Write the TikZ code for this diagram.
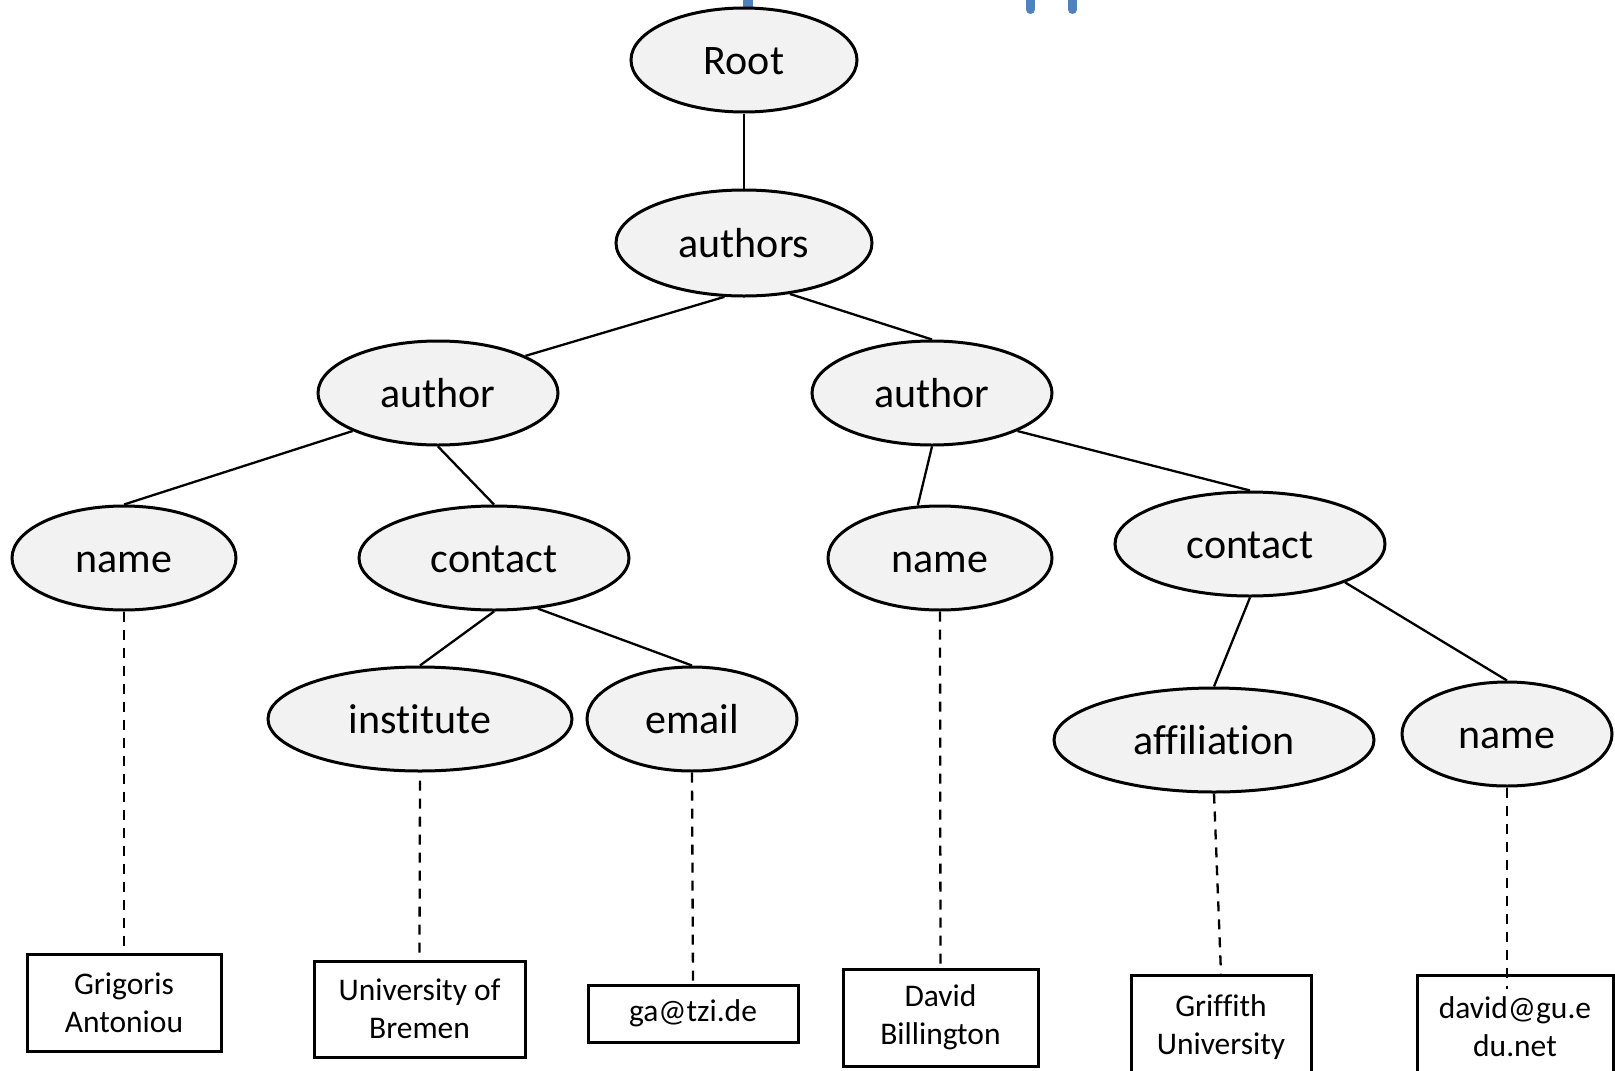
\documentclass[tikz,border=0pt]{standalone}
\usepackage{fontspec}
\setmainfont{Carlito}[Ligatures={NoCommon}]
\usetikzlibrary{shapes.geometric}
\definecolor{ellfill}{HTML}{F2F2F2}
\definecolor{markblue}{HTML}{4F81BD}
\tikzset{
  elem/.style={ellipse, draw=black, line width=3pt, fill=ellfill, inner sep=0pt,
    text height=29pt, text depth=0pt,
    font=\fontsize{42}{50}\selectfont},
  valbox/.style={rectangle, draw=black, line width=3pt, fill=white, inner sep=0pt,
    align=center, font=\fontsize{31.5}{38}\selectfont},
  edge/.style={draw=black, line width=2.3pt},
  dashline/.style={draw=black, line width=2.3pt, dash pattern=on 10pt off 8pt},
  bluemark/.style={draw=markblue, line width=9pt, line cap=round}
}
\begin{document}
\begin{tikzpicture}[x=1pt, y=-1pt]
\useasboundingbox (0,0) rectangle (1615,1071);
% fragments at top edge
\fill[markblue] (743,-2) rectangle (753,8);
\draw[bluemark] (1030.5,-8) -- (1030.5,9.5);
\draw[bluemark] (1072.5,-8) -- (1072.5,9.5);

% ellipses
\node[elem, minimum width=226pt, minimum height=104pt] (root) at (744,60) {Root};
\node[elem, minimum width=256pt, minimum height=106pt] (authors) at (744,243) {authors};
\node[elem, minimum width=240pt, minimum height=104pt] (authorL) at (438,393) {author};
\node[elem, minimum width=240pt, minimum height=104pt] (authorR) at (932,393) {author};
\node[elem, minimum width=224pt, minimum height=104pt] (nameL) at (124,558) {name};
\node[elem, minimum width=270pt, minimum height=104pt] (contactL) at (494,558) {contact};
\node[elem, minimum width=224pt, minimum height=104pt] (nameM) at (940,558) {name};
\node[elem, minimum width=270pt, minimum height=104pt] (contactR) at (1250,544) {contact};
\node[elem, minimum width=304pt, minimum height=104pt] (institute) at (420,719) {institute};
\node[elem, minimum width=210pt, minimum height=104pt] (email) at (692,719) {email};
\node[elem, minimum width=320pt, minimum height=104pt] (affil) at (1214,740) {affiliation};
\node[elem, minimum width=210pt, minimum height=104pt] (nameR) at (1507,734) {name};

% value boxes
\node[valbox, minimum width=194pt, minimum height=97pt] (gbox) at (124,1002.5) {Grigoris\\Antoniou};
\node[valbox, minimum width=211pt, minimum height=96pt] (ubox) at (419.5,1009) {University of\\Bremen};
\node[valbox, minimum width=210pt, minimum height=57pt] (ebox) at (693,1013.5) {ga@tzi.de};
\node[valbox, minimum width=195pt, minimum height=97pt] (dbbox) at (940.5,1017.5) {David\\Billington};
\node[valbox, minimum width=180pt, minimum height=104pt] (fbox) at (1221,1027) {Griffith\\University};
\node[valbox, minimum width=196pt, minimum height=104pt] (dbox) at (1515,1027) {david@gu.e\\du.net};

% tree edges
\draw[edge] (root.south) -- (authors.north);
\draw[edge] (authors.250) -- (authorL.23);
\draw[edge] (authors.312) -- (authorR.north);
\draw[edge] (authorL.204) -- (nameL.north);
\draw[edge] (authorL.south) -- (contactL.north);
\draw[edge] (authorR.south) -- (nameM.113);
\draw[edge] (authorR.336) -- (contactR.north);
\draw[edge] (contactL.south) -- (institute.north);
\draw[edge] (contactL.311) -- (email.north);
\draw[edge] (contactR.south) -- (affil.north);
\draw[edge] (contactR.338) -- (nameR.north);

% value links
\draw[dashline] (nameL.south) -- (gbox.north);
\draw[dashline] ([yshift=-8pt]institute.south) -- ([yshift=3pt]ubox.north);
\draw[dashline] (email.south) -- (ebox.north);
\draw[dashline] (nameM.south) -- (dbbox.north);
\draw[dashline] (affil.south) -- (fbox.north);
\draw[dashline] (nameR.south) -- ([yshift=-15pt]nameR.south |- dbox.north);
\end{tikzpicture}
\end{document}
